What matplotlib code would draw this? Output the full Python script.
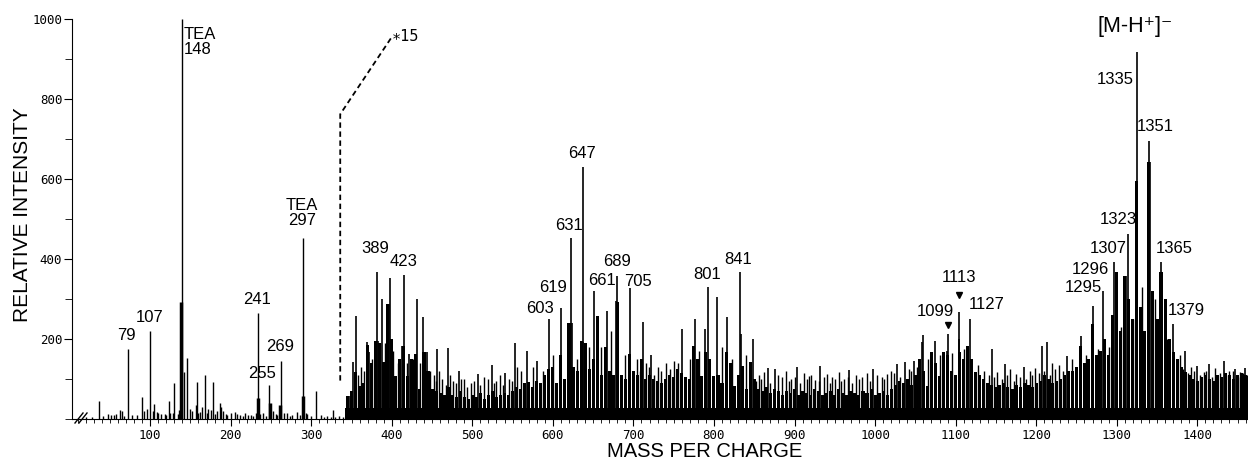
import matplotlib
matplotlib.use('Agg')
import matplotlib.pyplot as plt
import numpy as np
from matplotlib.ticker import MultipleLocator

########### Low mass region (unexpanded) ###############
low_mz = [20, 28, 37, 42, 48, 52, 55, 58, 63, 65, 68, 72.6, 78, 84, 90, 93, 96, 100.3, 103, 105,
          108, 110, 114, 118, 120, 123.5, 125, 128, 130, 134, 136, 139.3, 142.5, 146, 150, 152,
          156.6, 158.3, 160, 162, 165, 168.6, 170, 172, 175, 178, 180, 183, 186.5, 188, 190, 194,
          196, 200, 205, 208, 212, 215, 218, 222, 225, 228, 231, 234, 237, 240, 244, 248, 252,
          256, 258, 262, 266, 270, 274, 276, 282, 286, 289.5, 293, 295, 300, 306, 312, 316, 320,
          324, 327, 330, 335, 340]
low_int = [5, 6, 46, 8, 12, 10, 10, 12, 23, 20, 8, 175, 10, 10, 55, 20, 25, 220, 20, 37,
           18, 15, 12, 12, 10, 46, 15, 15, 90, 12, 22, 1000, 117, 152, 25, 20,
           36, 92, 15, 18, 30, 110, 15, 25, 22, 92, 12, 20, 40, 30, 20, 12,
           10, 15, 18, 12, 10, 8, 14, 10, 10, 8, 15, 265, 12, 15, 8, 85, 20,
           12, 10, 146, 15, 15, 8, 10, 18, 10, 452, 15, 12, 8, 70, 10, 6, 8,
           5, 22, 6, 8, 5]
# broader feet of some low mass peaks
foot_mz = [138.8, 233.5, 249, 261, 289.5]
foot_int = [292, 52, 40, 35, 58]

########### x15 region: dense background, 5 m/z bins from 345 ###############
floor_start = 345
solid_base = 28
floor_int = [58, 70, 117, 83, 90, 185, 140, 196, 190, 142, 287, 200, 108, 150, 183, 108, 150, 162, 75, 167,   # 345-440
             120, 75, 70, 65, 60, 80, 60, 55, 70, 55, 50, 60, 55, 65, 50, 60, 70, 55, 60, 65,              # 445-540
             60, 70, 80, 75, 90, 92, 80, 95, 90, 110, 125, 130, 90, 160, 100, 240, 130, 120, 195, 190,     # 545-640
             125, 150, 258, 110, 179, 120, 110, 292, 110, 100, 162, 120, 110, 150, 100, 110, 100, 95, 90, 100,  # 645-740
             110, 105, 125, 115, 105, 100, 183, 150, 108, 167, 150, 108, 110, 90, 167, 140, 83, 110, 133, 75,   # 745-840
             142, 100, 75, 70, 80, 65, 75, 70, 60, 70, 65, 75, 60, 70, 65, 60, 75, 70, 60, 65,             # 845-940
             70, 60, 75, 65, 60, 70, 65, 60, 70, 65, 75, 60, 65, 70, 60, 75, 85, 95, 90, 100,              # 945-1040
             85, 110, 150, 120, 83, 167, 140, 108, 167, 160, 120, 110, 167, 150, 183, 150, 117, 110, 100, 90,   # 1045-1140
             85, 80, 85, 90, 80, 75, 85, 80, 90, 85, 80, 90, 95, 110, 100, 90, 95, 100, 110, 120,          # 1145-1240
             120, 130, 183, 140, 150, 237, 160, 170, 200, 160, 260, 367, 220, 358, 300, 250, 596, 280, 220, 642,  # 1245-1340
             321, 250, 367, 300, 200, 167, 150, 130, 117, 110, 100, 95, 105, 110, 100, 95, 110, 105, 115, 110,   # 1345-1440
             100, 110, 115, 110]                                                                            # 1445-1460

########### x15 region: individual lines ###############
peak_mz = [348, 352, 355.7, 369, 372, 381.4, 383, 388, 396.7, 398, 412.5, 415.7, 422, 431, 439, 444,
           456.7, 470, 484, 507.6, 524, 540, 552.7, 567.6, 580, 595.4, 610.6, 622.3, 624, 638, 637,
           651.6, 667, 680, 678, 696, 711.7, 722, 760, 776.6, 789, 792.4, 804, 816, 832.5, 833, 848,
           867, 876, 903.6, 932, 968, 998, 1027, 1037, 1048, 1060, 1058, 1074, 1090, 1089, 1104.5,
           1104, 1118, 1120, 1145, 1161.5, 1185, 1207, 1213, 1238, 1255.5, 1270, 1283.6, 1297, 1299,
           1313.9, 1312, 1325.8, 1340, 1341, 1355, 1356, 1370.5, 1385, 1400, 1415, 1432.6, 1447, 1459]
peak_int = [58, 142, 258, 192, 167, 367, 196, 300, 287, 352, 183, 360, 162, 300, 254, 168,
            175, 177, 121, 112, 135, 115, 190, 171, 146, 250, 277, 452, 240, 629, 192,
            321, 271, 358, 296, 327, 243, 160, 225, 250, 225, 329, 306, 254, 367, 212, 200,
            127, 125, 129, 133, 123, 125, 137, 142, 146, 210, 192, 196, 212, 171, 267,
            200, 250, 150, 175, 137, 129, 183, 192, 158, 208, 282, 321, 392, 363,
            463, 358, 917, 696, 642, 392, 367, 237, 171, 133, 137, 146, 125, 127]
grass_mz = [358, 362, 365, 376, 386, 392, 402, 408, 419, 426, 435, 447, 452, 462, 476, 490, 498, 515,
            530, 545, 560, 575, 588, 600, 630, 645, 660, 672, 690, 704, 716, 730, 740, 750, 770, 782,
            810, 822, 840, 856, 862, 884, 890, 896, 912, 918, 925, 940, 946, 955, 962, 976, 984, 990,
            1008, 1015, 1020, 1042, 1052, 1066, 1080, 1096, 1110, 1128, 1135, 1152, 1168, 1175, 1192,
            1198, 1220, 1228, 1245, 1262, 1277, 1290, 1305, 1320, 1332, 1347, 1363, 1378, 1392, 1408,
            1422, 1440, 1453,
            455, 459, 467, 472, 480, 486, 494, 502, 510, 519, 527, 534, 538, 549, 556,
            708, 719, 726, 734, 745, 755,
            852, 859, 870, 880, 893, 900, 907, 915, 921, 930, 936, 944, 950, 958, 966, 971, 980, 994,
            1003, 1011, 1024, 1031, 1045,
            1142, 1148, 1157, 1164, 1172, 1180, 1188, 1195, 1203, 1210, 1217, 1224, 1233,
            1382, 1389, 1396, 1403, 1411, 1418, 1428, 1436, 1444, 1450, 1457, 1462]
grass_int = [110, 130, 120, 150, 190, 190, 170, 140, 140, 150, 140, 120, 110, 100, 95, 100, 90, 105,
             95, 100, 120, 130, 120, 160, 150, 180, 180, 220, 160, 150, 140, 130, 140, 145, 150, 170,
             180, 150, 160, 110, 118, 105, 120, 100, 115, 108, 98, 112, 104, 118, 100, 110, 106, 115,
             105, 112, 120, 125, 130, 150, 160, 165, 175, 135, 120, 118, 125, 112, 120,
             128, 140, 135, 150, 160, 175, 180, 230, 250, 330, 300, 200, 160, 130, 118,
             128, 120, 118,
             95, 120, 85, 110, 90, 100, 80, 95, 85, 100, 90, 110, 85, 95, 130,
             120, 130, 110, 120, 125, 140,
             95, 100, 90, 110, 95, 105, 90, 100, 110, 95, 105, 90, 100, 95, 105, 90, 100, 95,
             110, 100, 115, 105, 120,
             110, 105, 100, 110, 95, 105, 100, 110, 115, 120, 110, 125, 120,
             125, 115, 120, 110, 120, 105, 115, 110, 120, 105, 115, 110]

# peak labels: (text, m/z, intensity)
peak_labels = [('79', 70.8, 210), ('107', 99.3, 255), ('241', 232.8, 300), ('255', 239, 115),
               ('269', 262, 182), ('TEA\n297', 288.7, 514), ('389', 379, 427), ('423', 415, 395),
               ('603', 584, 277), ('619', 600, 330), ('631', 620, 485), ('647', 636, 665),
               ('661', 660.5, 347), ('689', 680, 395), ('705', 706, 345), ('801', 791, 362),
               ('841', 830, 400), ('1099', 1074.6, 268), ('1113', 1104.4, 355), ('1127', 1138, 287),
               ('1295', 1258.4, 330), ('1296', 1267.7, 375), ('1307', 1289.4, 427), ('1323', 1301.8, 498),
               ('1335', 1298, 850), ('1351', 1347.8, 731), ('1365', 1371.4, 427), ('1379', 1386.3, 271)]
marker_mz = [1090.7, 1104.4]
marker_int = [235, 310]

label_font = 'Liberation Sans'
tick_font = 'DejaVu Sans Mono'

fig = plt.figure(figsize=(12.48, 4.61), dpi=100)
ax = fig.add_axes([72/1248, 1 - 419/461, 1176/1248, 419/461])

############ Spectrum ###################
floor_mz = floor_start + 5 * np.arange(len(floor_int))
ax.fill_between([floor_start - 2.5, 1463], 0, solid_base, color='black', linewidth=0)
ax.bar(floor_mz, floor_int, width=3.8, color='black', linewidth=0)
ax.vlines(low_mz, 0, low_int, color='black', lw=1)
ax.vlines(foot_mz, 0, foot_int, color='black', lw=2.5)
ax.vlines(grass_mz, 0, grass_int, color='black', lw=1)
ax.vlines(peak_mz, 0, peak_int, color='black', lw=1.2)

# x15 expansion marker
ax.plot([336, 336, 399], [96, 762, 952], color='black', lw=1.3, dashes=(3, 2))
ax.text(400, 957, '\u221715', fontfamily=tick_font, fontsize=11, ha='left', va='center')

for txt, x, y in peak_labels:
    ax.text(x, y, txt, fontfamily=label_font, fontsize=12, ha='center', va='center', linespacing=1.0)
ax.text(142.2, 942, 'TEA\n148', fontfamily=label_font, fontsize=12, ha='left', va='center', linespacing=1.0)
ax.text(1323, 982, '[M-H\u207a]\u207b', fontfamily=['Liberation Sans', 'DejaVu Sans'], fontsize=15.5,
        ha='center', va='center')
ax.plot(marker_mz, marker_int, 'v', color='black', ms=4)

############ Axes ###################
ax.set_xlim(3, 1463)
ax.set_ylim(0, 1047.5)
ax.spines['top'].set_visible(False)
ax.spines['right'].set_visible(False)
ax.spines['left'].set_bounds(0, 1000)
ax.set_yticks([200, 400, 600, 800, 1000])
ax.yaxis.set_minor_locator(MultipleLocator(100))
ax.set_xticks(range(100, 1500, 100))
ax.xaxis.set_minor_locator(MultipleLocator(10))
ax.tick_params(axis='y', which='major', length=6, pad=1)
ax.tick_params(axis='y', which='minor', length=5)
ax.tick_params(axis='x', which='major', length=5, pad=2)
ax.tick_params(axis='x', which='minor', length=3)
for lab in ax.get_xticklabels() + ax.get_yticklabels():
    lab.set_fontfamily(tick_font)
    lab.set_fontsize(9)

# axis break //
for dx in (0, 4):
    ax.plot([(75 + dx - 72) / 1176, (83 + dx - 72) / 1176], [-4 / 419, 6 / 419],
            transform=ax.transAxes, color='black', lw=1, clip_on=False)

fig.text(23/1248, 1 - 215/461, 'RELATIVE INTENSITY', rotation=90, ha='center', va='center',
         fontfamily='Liberation Sans', fontsize=15)
fig.text(705/1248, 1 - 451/461, 'MASS PER CHARGE', ha='center', va='center',
         fontfamily='Liberation Sans', fontsize=14.5)

fig.savefig('out.png', dpi=100)
